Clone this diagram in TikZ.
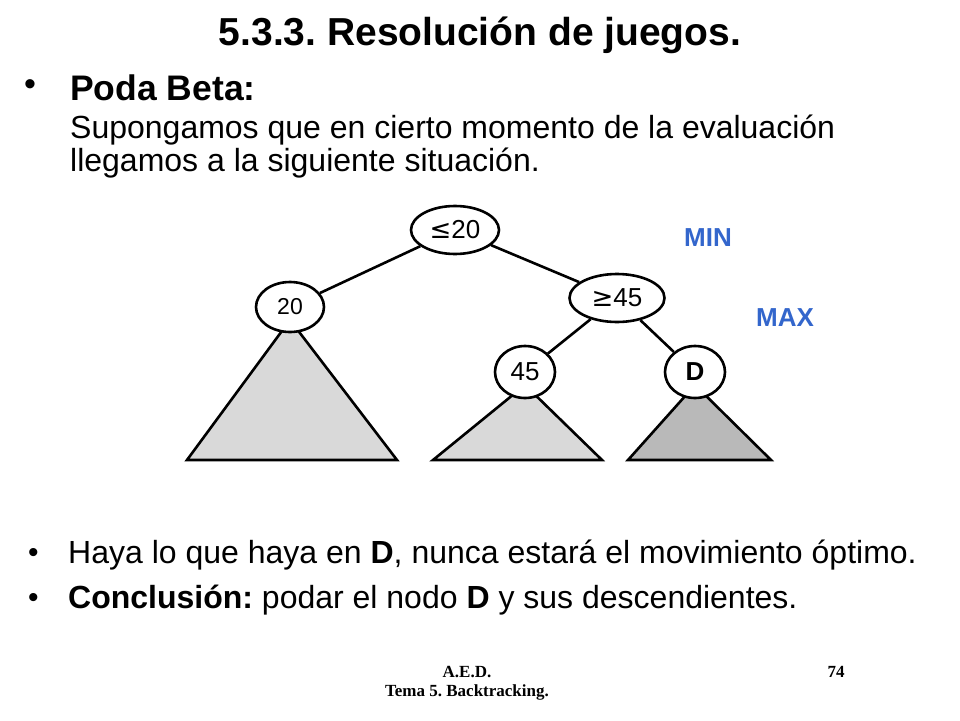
\documentclass[tikz,border=0pt]{standalone}
\usepackage{fontspec}
\setmainfont{Liberation Sans}
\newfontfamily\serifb{Liberation Serif}
\newfontfamily\dejavu{DejaVu Sans}
\usetikzlibrary{shapes.geometric}
\definecolor{mblue}{RGB}{51,102,204}
\frenchspacing
\begin{document}
\begin{tikzpicture}[x=1pt,y=-1pt,
  nd/.style={ellipse,draw,line width=2.6pt,fill=white,inner sep=0pt,font=\fontsize{26}{28}\selectfont},
  ed/.style={line width=2.6pt},
  tri/.style={draw,line width=2.6pt},
  lbl/.style={font=\fontsize{26}{28}\selectfont\bfseries,text=mblue},
  txt/.style={anchor=west,font=\fontsize{32}{34}\selectfont,inner sep=0pt}]
\useasboundingbox (0,0) rectangle (960,720);
\node (title) at (480,35) {\fontsize{39}{42}\selectfont\bfseries 5.3.3. Resolución de juegos.};
\node[txt] (b1) at (24,88) {\fontsize{34}{36}\selectfont •};
\node[txt] (h1) at (70,88) {\fontsize{35.5}{38}\selectfont\bfseries Poda Beta:};
\node[txt] (l1) at (70,130) {Supongamos que en cierto momento de la evaluación};
\node[txt] (l2) at (70,163) {llegamos a la siguiente situación.};
\fill[gray!30] (290,320) -- (397,460) -- (187,460) -- cycle;
\draw[tri] (290,320) -- (397,460) -- (187,460) -- cycle;
\fill[gray!30] (525,385) -- (602,460) -- (433,460) -- cycle;
\draw[tri] (525,385) -- (602,460) -- (433,460) -- cycle;
\fill[gray!55] (695,385) -- (771,460) -- (628,460) -- cycle;
\draw[tri] (695,385) -- (771,460) -- (628,460) -- cycle;
\node[nd,minimum width=88,minimum height=48] (r) at (455,230) {{\dejavu ≤}20};
\node[nd,minimum width=68,minimum height=50,font=\fontsize{23}{25}\selectfont] (a) at (290,307) {20};
\node[nd,minimum width=95,minimum height=48] (b) at (617,298) {{\dejavu ≥}45};
\node[nd,minimum width=60,minimum height=52] (c) at (525,372) {45};
\node[nd,minimum width=60,minimum height=52,font=\fontsize{26}{28}\selectfont\bfseries] (d) at (695,372) {D};
\draw[ed] (r) -- (a);
\draw[ed] (r) -- (b);
\draw[ed] (b) -- (c);
\draw[ed] (b) -- (d);
\node[lbl] (min) at (708,238) {MIN};
\node[lbl] (max) at (785,318) {MAX};
\node[txt] (b2) at (28,555) {\fontsize{30}{32}\selectfont •};
\node[txt] (t2) at (68,555) {\fontsize{32}{34}\selectfont Haya lo que haya en \textbf{D}, nunca estará el movimiento óptimo.};
\node[txt] (b3) at (28,600) {\fontsize{30}{32}\selectfont •};
\node[txt] (t3) at (68,600) {\fontsize{32}{34}\selectfont\textbf{Conclusión:} podar el nodo \textbf{D} y sus descendientes.};
\node (f1) at (467,672) {\serifb\bfseries\fontsize{17}{19}\selectfont A.E.D.};
\node (f2) at (467,692) {\serifb\bfseries\fontsize{17}{19}\selectfont Tema 5. Backtracking.};
\node (f3) at (836,672) {\serifb\bfseries\fontsize{17}{19}\selectfont 74};
\end{tikzpicture}
\end{document}
